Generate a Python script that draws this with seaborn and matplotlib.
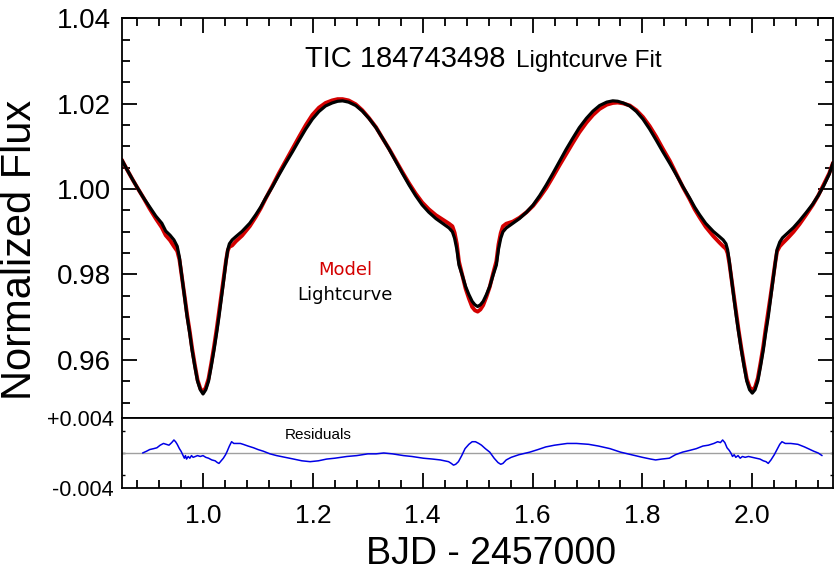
import matplotlib
matplotlib.use("Agg")
import matplotlib.pyplot as plt
from matplotlib.ticker import MultipleLocator, FixedLocator
import pandas as pd
import seaborn as sns

lc_time = [0.852, 0.862, 0.872, 0.882, 0.891, 0.902, 0.914, 0.925, 0.932, 0.940,
           0.947, 0.953, 0.957, 0.963, 0.967, 0.971, 0.976, 0.980, 0.985, 0.990,
           0.995, 1.000, 1.005, 1.010, 1.015, 1.020, 1.025, 1.029, 1.033, 1.037,
           1.042, 1.045, 1.048, 1.053, 1.060, 1.071, 1.085, 1.096, 1.105, 1.114,
           1.126, 1.138, 1.150, 1.163, 1.175, 1.187, 1.199, 1.211, 1.223, 1.235,
           1.245, 1.254, 1.265, 1.278, 1.290, 1.302, 1.315, 1.327, 1.339, 1.351,
           1.363, 1.375, 1.387, 1.399, 1.411, 1.424, 1.436, 1.448, 1.454, 1.458,
           1.462, 1.466, 1.472, 1.478, 1.484, 1.490, 1.495, 1.500, 1.505, 1.510,
           1.516, 1.522, 1.528, 1.534, 1.538, 1.542, 1.546, 1.552, 1.564, 1.576,
           1.589, 1.601, 1.613, 1.625, 1.637, 1.649, 1.661, 1.673, 1.685, 1.698,
           1.710, 1.722, 1.735, 1.746, 1.755, 1.765, 1.777, 1.789, 1.801, 1.813,
           1.825, 1.837, 1.850, 1.862, 1.874, 1.886, 1.895, 1.904, 1.915, 1.929,
           1.940, 1.947, 1.952, 1.955, 1.958, 1.963, 1.967, 1.971, 1.975, 1.980,
           1.985, 1.990, 1.995, 2.000, 2.005, 2.010, 2.015, 2.020, 2.024, 2.029,
           2.033, 2.037, 2.042, 2.045, 2.050, 2.055, 2.065, 2.075, 2.086, 2.098,
           2.110, 2.120, 2.130, 2.140, 2.147]
lc_flux = [1.0069, 1.0045, 1.0022, 1.0000, 0.9981, 0.9960, 0.9937, 0.9920, 0.9902, 0.9892,
           0.9881, 0.9866, 0.9840, 0.9780, 0.9740, 0.9701, 0.9660, 0.9623, 0.9585, 0.9550,
           0.9530, 0.9520, 0.9530, 0.9550, 0.9585, 0.9623, 0.9665, 0.9701, 0.9740, 0.9780,
           0.9832, 0.9858, 0.9872, 0.9881, 0.9889, 0.9901, 0.9920, 0.9940, 0.9958, 0.9979,
           1.0005, 1.0033, 1.0060, 1.0088, 1.0115, 1.0141, 1.0164, 1.0182, 1.0195, 1.0202,
           1.0206, 1.0207, 1.0204, 1.0196, 1.0183, 1.0166, 1.0144, 1.0119, 1.0093, 1.0065,
           1.0037, 1.0010, 0.9985, 0.9963, 0.9946, 0.9931, 0.9920, 0.9909, 0.9900, 0.9885,
           0.9860, 0.9822, 0.9798, 0.9772, 0.9753, 0.9737, 0.9729, 0.9725, 0.9729, 0.9737,
           0.9753, 0.9772, 0.9798, 0.9822, 0.9860, 0.9885, 0.9900, 0.9909, 0.9920, 0.9931,
           0.9946, 0.9963, 0.9985, 1.0010, 1.0037, 1.0065, 1.0093, 1.0119, 1.0144, 1.0166,
           1.0183, 1.0196, 1.0204, 1.0207, 1.0206, 1.0202, 1.0195, 1.0182, 1.0164, 1.0141,
           1.0115, 1.0088, 1.0060, 1.0033, 1.0005, 0.9979, 0.9958, 0.9940, 0.9920, 0.9901,
           0.9889, 0.9881, 0.9872, 0.9858, 0.9832, 0.9780, 0.9740, 0.9701, 0.9665, 0.9623,
           0.9585, 0.9550, 0.9530, 0.9522, 0.9530, 0.9550, 0.9585, 0.9623, 0.9660, 0.9701,
           0.9740, 0.9780, 0.9830, 0.9858, 0.9876, 0.9886, 0.9898, 0.9910, 0.9926, 0.9945,
           0.9965, 0.9985, 1.0008, 1.0035, 1.0062]

# Model fit (red), same time grid
model_flux = [1.0069, 1.0045, 1.0022, 1.0000, 0.9981, 0.9956, 0.9931, 0.9910, 0.9892, 0.9880,
              0.9866, 0.9855, 0.9835, 0.9781, 0.9744, 0.9706, 0.9665, 0.9628, 0.9589, 0.9553,
              0.9533, 0.9524, 0.9535, 0.9556, 0.9592, 0.9631, 0.9674, 0.9712, 0.9749, 0.9786,
              0.9834, 0.9856, 0.9865, 0.9868, 0.9878, 0.9891, 0.9913, 0.9935, 0.9955, 0.9978,
              1.0007, 1.0037, 1.0065, 1.0095, 1.0123, 1.0150, 1.0174, 1.0191, 1.0202, 1.0208,
              1.0211, 1.0211, 1.0208, 1.0199, 1.0185, 1.0167, 1.0145, 1.0119, 1.0094, 1.0067,
              1.0040, 1.0014, 0.9990, 0.9969, 0.9953, 0.9939, 0.9929, 0.9919, 0.9913, 0.9898,
              0.9872, 0.9830, 0.9799, 0.9767, 0.9744, 0.9724, 0.9716, 0.9713, 0.9718, 0.9728,
              0.9748, 0.9771, 0.9802, 0.9831, 0.9871, 0.9897, 0.9913, 0.9919, 0.9924, 0.9933,
              0.9946, 0.9961, 0.9981, 1.0003, 1.0029, 1.0056, 1.0082, 1.0108, 1.0133, 1.0156,
              1.0174, 1.0188, 1.0198, 1.0202, 1.0203, 1.0201, 1.0196, 1.0185, 1.0169, 1.0148,
              1.0123, 1.0095, 1.0066, 1.0035, 1.0004, 0.9976, 0.9953, 0.9934, 0.9912, 0.9890,
              0.9875, 0.9866, 0.9860, 0.9850, 0.9828, 0.9781, 0.9743, 0.9705, 0.9670, 0.9628,
              0.9590, 0.9555, 0.9536, 0.9528, 0.9536, 0.9557, 0.9593, 0.9632, 0.9670, 0.9713,
              0.9748, 0.9784, 0.9830, 0.9854, 0.9866, 0.9873, 0.9886, 0.9900, 0.9918, 0.9940,
              0.9963, 0.9985, 1.0011, 1.0037, 1.0062]

# Residuals (blue)
res_time = [0.890, 0.897, 0.903, 0.910, 0.916, 0.922, 0.928, 0.933, 0.938, 0.943,
            0.947, 0.950, 0.953, 0.957, 0.960, 0.963, 0.966, 0.968, 0.970, 0.973,
            0.976, 0.979, 0.982, 0.986, 0.990, 0.995, 1.000, 1.005, 1.010, 1.016,
            1.022, 1.026, 1.029, 1.033, 1.037, 1.041, 1.044, 1.048, 1.052, 1.056,
            1.062, 1.068, 1.073, 1.082, 1.092, 1.100, 1.110, 1.122, 1.134, 1.150,
            1.165, 1.180, 1.195, 1.210, 1.225, 1.240, 1.262, 1.280, 1.300, 1.315,
            1.329, 1.345, 1.365, 1.380, 1.401, 1.418, 1.432, 1.447, 1.452, 1.456,
            1.460, 1.465, 1.471, 1.477, 1.484, 1.490, 1.496, 1.502, 1.507, 1.514,
            1.522, 1.530, 1.537, 1.542, 1.546, 1.552, 1.561, 1.575, 1.595, 1.610,
            1.624, 1.640, 1.663, 1.680, 1.702, 1.720, 1.741, 1.760, 1.780, 1.800,
            1.815, 1.824, 1.835, 1.849, 1.860, 1.873, 1.886, 1.898, 1.910, 1.920,
            1.930, 1.937, 1.942, 1.946, 1.950, 1.954, 1.958, 1.961, 1.964, 1.967,
            1.970, 1.974, 1.978, 1.982, 1.987, 1.993, 2.000, 2.007, 2.014, 2.020,
            2.025, 2.029, 2.034, 2.040, 2.045, 2.050, 2.054, 2.060, 2.070, 2.083,
            2.095, 2.105, 2.112, 2.120, 2.127]
res_flux = [0.0000, 0.0002, 0.0004, 0.0005, 0.0006, 0.0009, 0.0011, 0.0010, 0.0009, 0.0012,
            0.0015, 0.0013, 0.0010, 0.0005, 0.0002, -0.0002, -0.0006, -0.0003, -0.0007, -0.0004,
            -0.0006, -0.0003, -0.0005, -0.0004, -0.0003, -0.0004, -0.0003, -0.0005, -0.0006, -0.0008,
            -0.0009, -0.0011, -0.0012, -0.0009, -0.0006, -0.0002, 0.0002, 0.0008, 0.0013, 0.0011,
            0.0011, 0.0011, 0.0010, 0.0008, 0.0006, 0.0004, 0.0002, -0.0001, -0.0003, -0.0005,
            -0.0007, -0.0009, -0.0010, -0.0009, -0.0007, -0.0006, -0.0004, -0.0003, -0.0001, -0.0001,
            0.0000, -0.0001, -0.0003, -0.0004, -0.0006, -0.0007, -0.0008, -0.0010, -0.0012, -0.0014,
            -0.0013, -0.0010, -0.0003, 0.0005, 0.0010, 0.0013, 0.0013, 0.0011, 0.0009, 0.0005,
            0.0001, -0.0006, -0.0011, -0.0013, -0.0012, -0.0008, -0.0005, -0.0002, 0.0001, 0.0004,
            0.0007, 0.0009, 0.0011, 0.0011, 0.0010, 0.0008, 0.0005, 0.0001, -0.0002, -0.0005,
            -0.0007, -0.0008, -0.0007, -0.0006, -0.0002, 0.0001, 0.0003, 0.0005, 0.0008, 0.0009,
            0.0011, 0.0013, 0.0012, 0.0015, 0.0012, 0.0006, 0.0003, 0.0000, -0.0004, -0.0002,
            -0.0005, -0.0003, -0.0006, -0.0004, -0.0005, -0.0004, -0.0005, -0.0006, -0.0007, -0.0009,
            -0.0010, -0.0012, -0.0008, -0.0002, 0.0004, 0.0010, 0.0013, 0.0011, 0.0011, 0.0010,
            0.0007, 0.0004, 0.0002, 0.0000, -0.0003]

x_ticks = [1.0, 1.2, 1.4, 1.6, 1.8, 2.0]
x_labels = ['1.0', '1.2', '1.4', '1.6', '1.8', '2.0']
flux_ticks = [0.96, 0.98, 1.00, 1.02, 1.04]
flux_labels = ['0.96', '0.98', '1.00', '1.02', '1.04']

sns.set_theme(style="white")
plt.rcParams['font.family'] = ['Liberation Sans', 'DejaVu Sans']
plt.rcParams['text.color'] = 'black'
plt.rcParams['xtick.color'] = 'black'
plt.rcParams['ytick.color'] = 'black'

fig = plt.figure(figsize=(8.39, 5.76), dpi=100)
ax1 = fig.add_axes([0.1451, 0.2738, 0.8478, 0.6941])
ax2 = fig.add_axes([0.1451, 0.1533, 0.8478, 0.1205])

df_lc = pd.DataFrame({'time': lc_time, 'flux': lc_flux, 'model': model_flux})
df_res = pd.DataFrame({'time': res_time, 'res': res_flux})

# model first, observed curve drawn over it
sns.lineplot(data=df_lc, x='time', y='model', ax=ax1, color='#d40000',
             linewidth=2.8, sort=False, estimator=None)
sns.lineplot(data=df_lc, x='time', y='flux', ax=ax1, color='black',
             linewidth=2.3, sort=False, estimator=None)

ax2.axhline(0, color='#a0a0a0', linewidth=1.0)
sns.lineplot(data=df_res, x='time', y='res', ax=ax2, color='#0000e6',
             linewidth=1.1, sort=False, estimator=None)

for ax in (ax1, ax2):
    ax.set_xlim(0.852, 2.147)
    ax.set_xlabel('')
    ax.set_ylabel('')
    for s in ax.spines.values():
        s.set_color('black')
        s.set_linewidth(1.3)
    ax.xaxis.set_major_locator(FixedLocator(x_ticks))
    ax.xaxis.set_minor_locator(MultipleLocator(0.04))

ax1.set_ylim(0.9463, 1.04)
ax1.yaxis.set_major_locator(FixedLocator(flux_ticks))
ax1.yaxis.set_minor_locator(MultipleLocator(0.005))
ax1.set_yticklabels(flux_labels)
ax1.tick_params(axis='both', which='both', direction='in', width=1.3,
                top=True, bottom=False, left=True, right=True,
                labelbottom=False, labeltop=False)
ax1.tick_params(which='major', length=11)
ax1.tick_params(which='minor', length=5.5)
ax1.tick_params(axis='y', labelsize=20, pad=8)

ax2.set_ylim(-0.004, 0.004)
ax2.yaxis.set_major_locator(FixedLocator([-0.004, 0.004]))
ax2.yaxis.set_minor_locator(FixedLocator([-0.0025, 0.0, 0.0025]))
ax2.set_yticklabels(['-0.004', '+0.004'])
ax2.set_xticklabels(x_labels)
ax2.tick_params(axis='both', which='both', direction='in', width=1.3,
                top=False, bottom=True, left=True, right=True)
ax2.tick_params(axis='x', which='major', length=11)
ax2.tick_params(axis='x', which='minor', length=5.5)
ax2.tick_params(axis='y', which='major', length=0, labelsize=15.5, pad=6)
ax2.tick_params(axis='y', which='minor', length=2.5, width=1)
ax2.tick_params(axis='x', labelsize=19, pad=12)

fig.text(0.364, 0.884, 'TIC 184743498', fontsize=21, ha='left', va='baseline')
fig.text(0.6155, 0.884, 'Lightcurve Fit', fontsize=17.5, ha='left', va='baseline')
fig.text(0.4112, 0.531, 'Model', fontsize=13, color='#d40000', family='DejaVu Sans',
         ha='center', va='center')
fig.text(0.4112, 0.4878, 'Lightcurve', fontsize=13, color='black', family='DejaVu Sans',
         ha='center', va='center')
fig.text(0.379, 0.2448, 'Residuals', fontsize=11, ha='center', va='center')

fig.text(0.024, 0.566, 'Normalized Flux', fontsize=30, rotation=90, ha='center', va='center')
fig.text(0.585, 0.038, 'BJD - 2457000', fontsize=27, ha='center', va='center')

fig.savefig('out.png', dpi=100)
